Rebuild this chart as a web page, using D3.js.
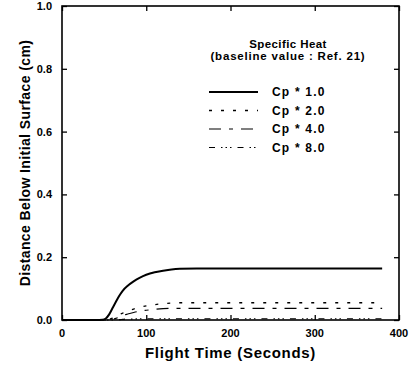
<!DOCTYPE html>
<html>
<head>
<meta charset="utf-8">
<script src="https://cdn.jsdelivr.net/npm/d3@7"></script>
<style>
  body { margin: 0; background: #fff; }
  text { font-family: "Liberation Sans", Arial, sans-serif; font-weight: bold; fill: #000; }
</style>
</head>
<body>
<div id="chart"></div>
<script>
// flight time (s)
const times = [0, 20, 40, 48, 52, 56, 60, 64, 68, 72, 78, 85, 92, 100, 110, 120, 130, 140, 160, 200, 300, 380]
// depth below initial surface (cm), one array per Cp multiplier
const cp1 = [0, 0, 0, 0.001, 0.005, 0.018, 0.038, 0.058, 0.077, 0.093, 0.109, 0.123, 0.134, 0.144, 0.152, 0.157, 0.161, 0.163, 0.164, 0.164, 0.164, 0.164]
const cp2 = [0, 0, 0, 0, 0, 0.002, 0.006, 0.011, 0.017, 0.022, 0.028, 0.035, 0.04, 0.045, 0.049, 0.052, 0.054, 0.055, 0.055, 0.055, 0.055, 0.055]
const cp4 = [0, 0, 0, 0, 0, 0, 0.002, 0.005, 0.009, 0.014, 0.019, 0.024, 0.028, 0.031, 0.034, 0.036, 0.037, 0.037, 0.037, 0.037, 0.037, 0.037]
const cp8 = [0, 0, 0, 0, 0, 0, 0, 0.001, 0.001, 0.002, 0.003, 0.003, 0.004, 0.004, 0.004, 0.004, 0.004, 0.004, 0.004, 0.004, 0.004, 0.004]
const seriesNames = ["Cp * 1.0", "Cp * 2.0", "Cp * 4.0", "Cp * 8.0"]
const xTicks = [0, 100, 200, 300, 400]
const yTicks = [0, 0.2, 0.4, 0.6, 0.8, 1.0]

const width = 416
const height = 366
const margin = {top: 6, right: 17, bottom: 46, left: 62}

const svg = d3.select("#chart")
    .append("svg")
    .attr("width", width)
    .attr("height", height)

const x = d3.scaleLinear()
    .domain([0, 400])
    .range([margin.left, width - margin.right])

const y = d3.scaleLinear()
    .domain([0, 1])
    .range([height - margin.bottom, margin.top])

const styles = [
    {w: 2, dash: null},
    {w: 1.3, dash: "3,9"},
    {w: 1.2, dash: "12,8,4,8"},
    {w: 1.2, dash: "6,6,1.5,3,1.5,3,1.5,6"}
]
const allSeries = [cp1, cp2, cp4, cp8]

// axes: ticks point inward on all four sides
const tick = 5
svg.append("g")
    .attr("transform", `translate(0,${y(0)})`)
    .call(d3.axisTop(x).tickValues(xTicks).tickSize(tick).tickFormat(""))
svg.append("g")
    .attr("transform", `translate(0,${y(1)})`)
    .call(d3.axisBottom(x).tickValues(xTicks).tickSize(tick).tickFormat(""))
svg.append("g")
    .attr("transform", `translate(${x(0)},0)`)
    .call(d3.axisRight(y).tickValues(yTicks).tickSize(tick).tickFormat(""))
svg.append("g")
    .attr("transform", `translate(${x(400)},0)`)
    .call(d3.axisLeft(y).tickValues(yTicks).tickSize(tick).tickFormat(""))
svg.selectAll(".domain").remove()
svg.selectAll(".tick line").attr("stroke", "#000").attr("stroke-width", 1.3)

svg.append("rect")
    .attr("x", x(0))
    .attr("y", y(1))
    .attr("width", x(400) - x(0))
    .attr("height", y(0) - y(1))
    .attr("fill", "none")
    .attr("stroke", "#000")
    .attr("stroke-width", 1.6)

// tick labels
svg.append("g").selectAll("text")
    .data(yTicks)
    .enter().append("text")
    .attr("x", x(0) - 10)
    .attr("y", d => y(d) + 4)
    .attr("text-anchor", "end")
    .style("font-size", "11px")
    .text(d => d.toFixed(1))

svg.append("g").selectAll("text")
    .data(xTicks)
    .enter().append("text")
    .attr("x", d => x(d))
    .attr("y", y(0) + 17)
    .attr("text-anchor", "middle")
    .style("font-size", "11px")
    .text(d => d)

// axis titles
svg.append("text")
    .attr("x", (x(0) + x(400)) / 2)
    .attr("y", 358)
    .attr("text-anchor", "middle")
    .style("font-size", "15px")
    .style("letter-spacing", "0.7px")
    .text("Flight Time (Seconds)")

svg.append("text")
    .attr("transform", `translate(30,${(y(0) + y(1)) / 2}) rotate(-90)`)
    .attr("text-anchor", "middle")
    .style("font-size", "14px")
    .style("letter-spacing", "0.4px")
    .text("Distance Below Initial Surface (cm)")

// curves
const line = d3.line()
    .x((d, i) => x(times[i]))
    .y(d => y(d))
    .curve(d3.curveMonotoneX)

svg.append("g").selectAll("path")
    .data(allSeries)
    .enter().append("path")
    .attr("d", line)
    .attr("fill", "none")
    .attr("stroke", "#000")
    .attr("stroke-width", (d, i) => styles[i].w)
    .attr("stroke-dasharray", (d, i) => styles[i].dash)

// legend
const lg = svg.append("g")
lg.append("text")
    .attr("x", 288)
    .attr("y", 48)
    .attr("text-anchor", "middle")
    .style("font-size", "11.5px")
    .style("letter-spacing", "0.4px")
    .text("Specific Heat")
lg.append("text")
    .attr("x", 288)
    .attr("y", 60)
    .attr("text-anchor", "middle")
    .style("font-size", "11.5px")
    .style("letter-spacing", "0.8px")
    .text("(baseline value : Ref. 21)")

const rows = lg.selectAll("g.row")
    .data(seriesNames)
    .enter().append("g")
    .attr("transform", (d, i) => `translate(0,${92 + i * 18.5})`)
rows.append("line")
    .attr("x1", 209)
    .attr("x2", 258)
    .attr("stroke", "#000")
    .attr("stroke-width", (d, i) => styles[i].w)
    .attr("stroke-dasharray", (d, i) => styles[i].dash)
rows.append("text")
    .attr("x", 272)
    .attr("y", 4)
    .style("font-size", "12px")
    .style("letter-spacing", "1.2px")
    .text(d => d)
</script>
</body>
</html>
